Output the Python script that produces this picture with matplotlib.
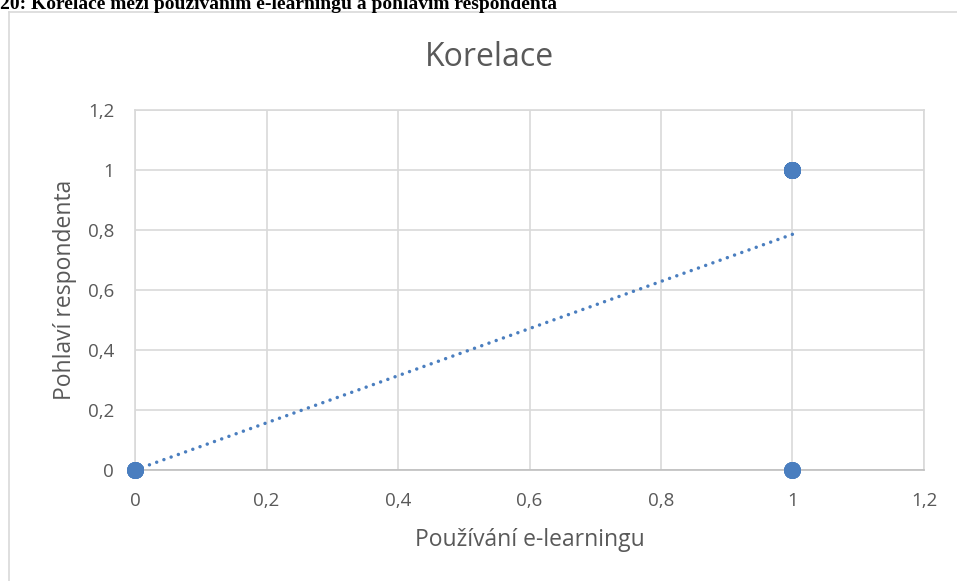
import matplotlib.pyplot as plt
import numpy as np
from matplotlib.lines import Line2D

# data: usage of e-learning (x) vs respondent gender (y), overlapping points
x_vals = [0, 0, 0, 0, 1, 1, 1, 1, 1, 1, 1, 1, 1, 1, 1, 1, 1, 1]
y_vals = [0, 0, 0, 0, 1, 1, 1, 1, 1, 1, 1, 1, 1, 1, 1, 0, 0, 0]
ticks = [0, 0.2, 0.4, 0.6, 0.8, 1, 1.2]
tick_labels = ["0", "0,2", "0,4", "0,6", "0,8", "1", "1,2"]

caption = "20: Korelace mezi používáním e-learningu a pohlavím respondenta"
title = "Korelace"
xlabel = "Používání e-learningu"
ylabel = "Pohlaví respondenta"

plt.rcParams['font.family'] = ['Open Sans', 'DejaVu Sans']

W, H = 957, 581
fig = plt.figure(figsize=(W / 100, H / 100), dpi=100)
ax = fig.add_axes([135 / W, 1 - 470 / H, (924 - 135) / W, (470 - 110) / H])

blue = '#4a7ebf'
grid = '#d9d9d9'
text_col = '#595959'

# trendline
slope, icpt = np.polyfit(x_vals, y_vals, 1)
tx = np.array([0, 1])
ax.plot(tx, slope * tx + icpt, color=blue, lw=2.5, linestyle=(0, (0.01, 2.2)),
        dash_capstyle='round', zorder=3)

ax.scatter(x_vals, y_vals, s=150, color=blue, zorder=4, clip_on=False, linewidths=0)

ax.set_xlim(0, 1.2)
ax.set_ylim(0, 1.2)
ax.set_xticks(ticks)
ax.set_xticklabels(tick_labels)
ax.set_yticks(ticks)
ax.set_yticklabels(tick_labels)
ax.grid(True, color=grid, lw=1.2)
ax.set_axisbelow(True)
for side in ['top', 'left', 'right']:
    ax.spines[side].set_color(grid)
    ax.spines[side].set_linewidth(1.2)
ax.spines['bottom'].set_color('#bfbfbf')
ax.spines['bottom'].set_linewidth(1.2)
ax.tick_params(length=0, labelsize=13.5, colors=text_col)
ax.tick_params(axis='x', pad=16)
ax.tick_params(axis='y', pad=15)

ax.set_xlabel(xlabel, fontsize=16.5, color=text_col, labelpad=13)
ax.set_ylabel(ylabel, fontsize=16.5, color=text_col, labelpad=8)
fig.text(489 / W, 1 - 57 / H, title, fontsize=23, color=text_col, ha='center', va='center')

# chart border
fig.add_artist(Line2D([9 / W, 1], [1 - 12 / H] * 2, color=grid, lw=1.2))
fig.add_artist(Line2D([9 / W] * 2, [0, 1 - 12 / H], color=grid, lw=1.2))

# cut-off caption at the top
fig.text(0, 1 - 9 / H, caption, fontsize=14, fontweight='bold',
         family='Liberation Serif', ha='left', va='baseline')

fig.savefig('out.png', dpi=100)
